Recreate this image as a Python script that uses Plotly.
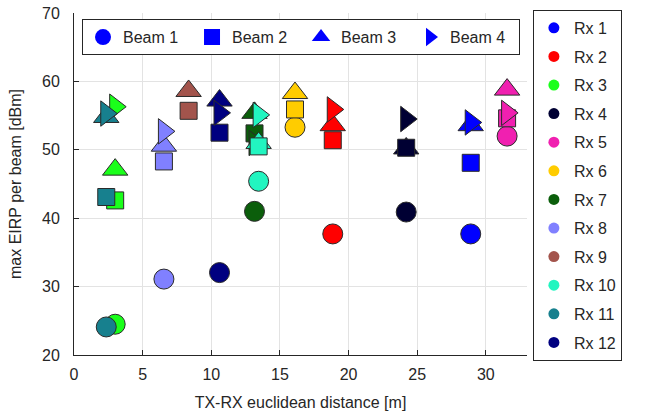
import plotly.graph_objects as go

rx_names = ["Rx 1", "Rx 2", "Rx 3", "Rx 4", "Rx 5", "Rx 6", "Rx 7", "Rx 8", "Rx 9", "Rx 10", "Rx 11", "Rx 12"]
rx_colors = ["#0000ff", "#ff0000", "#1aff1a", "#000033", "#f020b0", "#ffcc00",
             "#0b5e0b", "#8080ff", "#a3544c", "#22f5c0", "#17808e", "#000080"]
distance = [28.9, 18.85, 3.0, 24.2, 31.55, 16.1, 13.15, 6.55, 8.35, 13.45, 2.35, 10.6]
beam1 = [37.7, 37.7, 24.5, 40.9, 52.0, 53.3, 41.0, 31.1, None, 45.4, 24.1, 32.05]
beam2 = [48.1, 51.4, 42.6, 50.3, 54.6, 55.9, 52.4, 48.3, 55.7, 50.5, 43.1, 52.5]
beam3 = [53.6, 53.6, 47.1, 50.2, 58.8, 58.3, 55.4, 50.6, 58.6, 51.0, 54.8, 57.2]
beam4 = [54.0, 55.9, 56.3, 54.5, 55.4, None, 51.0, 52.7, None, 55.1, 55.3, 55.4]
beam_names = ["Beam 1", "Beam 2", "Beam 3", "Beam 4"]
beam_symbols = ["circle", "square", "triangle-up", "triangle-right"]
beam_sizes = [20, 17, 22, 22]

beams = [beam1, beam2, beam3, beam4]
draw_order = [0, 2, 1, 3]

fig = go.Figure()

for i, name in enumerate(rx_names):
    xs, ys, syms, sizes = [], [], [], []
    for b in draw_order:
        v = beams[b][i]
        if v is None:
            continue
        xs.append(distance[i])
        ys.append(v)
        syms.append(beam_symbols[b])
        sizes.append(beam_sizes[b])
    fig.add_trace(go.Scatter(
        x=xs, y=ys, mode="markers", showlegend=False,
        marker=dict(color=rx_colors[i], symbol=syms, size=sizes, opacity=1,
                    line=dict(color="#2a2a2a", width=1)),
        hoverinfo="skip"))

# Rx legend
for i, name in enumerate(rx_names):
    fig.add_trace(go.Scatter(
        x=[None], y=[None], mode="markers", name=name, legend="legend",
        legendgroup=name,
        marker=dict(color=rx_colors[i], symbol="circle", size=11, opacity=1,
                    line=dict(width=0))))

# Beam legend
for b in range(4):
    fig.add_trace(go.Scatter(
        x=[None], y=[None], mode="markers", name=beam_names[b], legend="legend2",
        marker=dict(color="#0000ff", symbol=beam_symbols[b], size=16, opacity=1,
                    line=dict(width=0))))

axis_font = dict(family="Arial, Liberation Sans, sans-serif", size=16, color="#262626")
leg_font = dict(family="Arial, Liberation Sans, sans-serif", size=16, color="#262626")

fig.update_layout(
    width=649, height=419,
    margin=dict(l=74, r=122, t=13, b=64, autoexpand=False),
    paper_bgcolor="white", plot_bgcolor="white",
    font=axis_font,
    xaxis=dict(range=[0, 33], dtick=5, tick0=0, showgrid=True, gridcolor="#e3e3e3",
               showline=True, linecolor="#262626", linewidth=1, ticks="inside",
               ticklen=5, tickcolor="#262626", zeroline=False, ticklabelstandoff=5,
               title=dict(text="TX-RX euclidean distance [m]", font=axis_font, standoff=14)),
    yaxis=dict(range=[20, 70], dtick=10, tick0=20, showgrid=True, gridcolor="#e3e3e3",
               showline=True, linecolor="#262626", linewidth=1, ticks="inside",
               ticklen=5, tickcolor="#262626", zeroline=False, ticklabelstandoff=10,
               title=dict(text="max EIRP per beam [dBm]", font=axis_font, standoff=16)),
    legend=dict(x=1.013, y=1.009, xanchor="left", yanchor="top",
                bordercolor="#262626", borderwidth=1, bgcolor="white",
                font=leg_font, tracegroupgap=4.8, itemwidth=30, maxheight=400),
    legend2=dict(orientation="h", x=0.0177, y=0.982, xanchor="left", yanchor="top",
                 bordercolor="#262626", borderwidth=1, bgcolor="white",
                 font=leg_font, entrywidth=64, itemwidth=30),
)

fig.write_html("out.html", config={"displayModeBar": False},
               post_script="document.body.style.margin='0';")
